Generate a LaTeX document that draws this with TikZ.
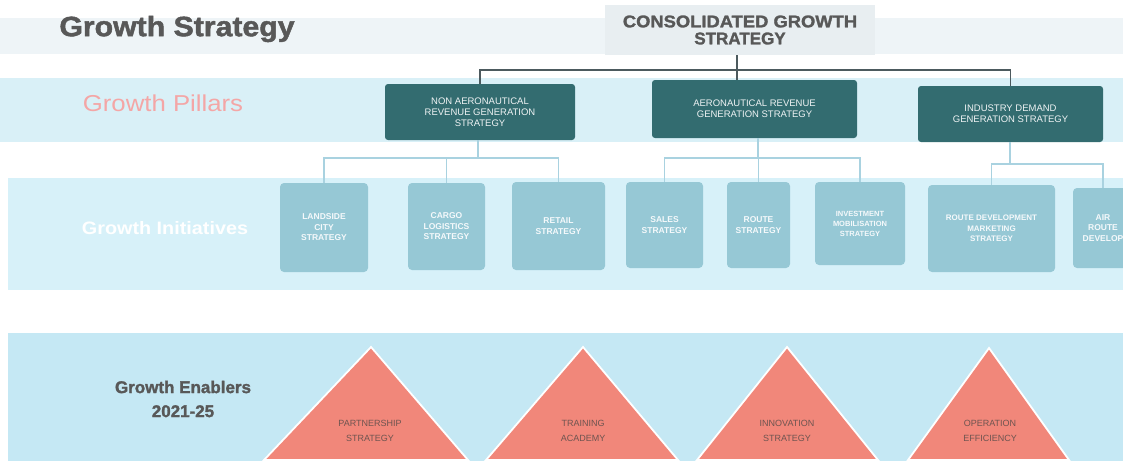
\documentclass[tikz,border=0pt]{standalone}
\usepackage{fontspec}
\setmainfont{Liberation Sans}
\newfontfamily\heavyfont[BoldFeatures={FakeBold=1.6}]{Liberation Sans}
\definecolor{bandtop}{HTML}{EEF4F7}
\definecolor{bandpillar}{HTML}{D9F0F7}
\definecolor{bandinit}{HTML}{D7F1F9}
\definecolor{bandenab}{HTML}{C5E8F4}
\definecolor{consfill}{HTML}{E8EEF1}
\definecolor{pillarfill}{HTML}{336C70}
\definecolor{initfill}{HTML}{96C8D5}
\definecolor{trifill}{HTML}{F1877A}
\definecolor{headgray}{HTML}{585858}
\definecolor{trunkgray}{HTML}{4C5A5E}
\definecolor{branchblue}{HTML}{A9D2E0}
\definecolor{pillarpink}{HTML}{F4A6A6}
\definecolor{tritext}{HTML}{6E5450}
\begin{document}
\begin{tikzpicture}[x=1pt,y=-1pt,
  pillarbox/.style={fill=pillarfill, rounded corners=3pt, text=white!92!pillarfill,
    font=\fontsize{9.5}{11}\selectfont, align=center, inner sep=2pt},
  initbox/.style={fill=initfill, rounded corners=4pt, text=white!90!initfill,
    font=\bfseries\fontsize{8.5}{10.5}\selectfont, align=center, inner sep=2pt},
  trunk/.style={draw=trunkgray, line width=1.8pt},
  branch/.style={draw=branchblue, line width=1.8pt},
  enabler/.style={fill=trifill, draw=white, line width=1.8pt, line join=miter},
  trilabel/.style={text=tritext, font=\fontsize{9}{15}\selectfont, align=center}]
\useasboundingbox (0,0) rectangle (1123,463);
\clip (0,0) rectangle (1123,463);

% background bands
\fill[bandtop] (0,18) rectangle (1123,54);
\fill[bandpillar] (0,78) rectangle (1123,142);
\fill[bandinit] (8,178) rectangle (1123,290);
\fill[bandenab] (8,333) rectangle (1123,461);

% headings
\node[text=headgray, font=\heavyfont\bfseries\fontsize{28}{30}\selectfont] (title) at (177,29)
      {\scalebox{1.08}[1]{Growth Strategy}};
\node[fill=consfill, minimum width=270pt, minimum height=50pt, text=headgray,
      font=\heavyfont\bfseries\fontsize{17}{17}\selectfont, align=center] (cons) at (740,30)
      {\scalebox{1.08}[1]{CONSOLIDATED GROWTH}\\STRATEGY};
\node[text=pillarpink, font=\fontsize{23}{24}\selectfont] (lblpillars) at (163,103)
      {\scalebox{1.12}[1]{Growth Pillars}};
\node[text=white, font=\bfseries\fontsize{18}{18}\selectfont] (lblinit) at (165,228)
      {\scalebox{1.1}[1]{Growth Initiatives}};
\node[text=headgray, font=\heavyfont\bfseries\fontsize{17}{24}\selectfont, align=center] (lblenab) at (183,399)
      {Growth Enablers\\2021-25};

% growth pillars
\node[pillarbox, minimum width=190pt, minimum height=56pt] (p1) at (480,112)
      {NON AERONAUTICAL\\REVENUE GENERATION\\STRATEGY};
\node[pillarbox, minimum width=205pt, minimum height=58pt] (p2) at (754.5,109)
      {AERONAUTICAL REVENUE\\GENERATION STRATEGY};
\node[pillarbox, minimum width=185pt, minimum height=56pt] (p3) at (1010.5,114)
      {INDUSTRY DEMAND\\GENERATION STRATEGY};

% growth initiatives
\node[initbox, minimum width=88pt, minimum height=89pt] (i1) at (324,227.5) {LANDSIDE\\CITY\\STRATEGY};
\node[initbox, minimum width=77pt, minimum height=87pt] (i2) at (446.5,226.5) {CARGO\\LOGISTICS\\STRATEGY};
\node[initbox, minimum width=93pt, minimum height=88pt] (i3) at (558.5,226) {RETAIL\\STRATEGY};
\node[initbox, minimum width=77pt, minimum height=86pt] (i4) at (664.5,225) {SALES\\STRATEGY};
\node[initbox, minimum width=63pt, minimum height=86pt] (i5) at (758.5,225) {ROUTE\\STRATEGY};
\node[initbox, minimum width=90pt, minimum height=83pt, font=\bfseries\fontsize{7.5}{10}\selectfont] (i6) at (860,223.5)
      {INVESTMENT\\MOBILISATION\\STRATEGY};
\node[initbox, minimum width=127pt, minimum height=87pt, font=\bfseries\fontsize{8}{10.5}\selectfont] (i7) at (991.5,228.5)
      {ROUTE DEVELOPMENT\\MARKETING\\STRATEGY};
\node[initbox, minimum width=60pt, minimum height=80pt] (i8) at (1103,228) {AIR\\ROUTE\\DEVELOP};

% consolidated strategy to pillars
\coordinate (hub) at (737,70);
\draw[trunk] (cons.south -| hub) -- (hub);
\draw[trunk] (hub) -| (p1.north);
\draw[trunk] (hub) -| (p3.north);
\draw[trunk] (hub) -- (p2.north -| hub);

% pillars to initiatives
\coordinate (h1) at (478,158);
\coordinate (h2) at (758,158);
\coordinate (h3) at (1010,164);
\draw[branch] (p1.south -| h1) -- (h1);
\draw[branch] (i1.north) |- (h1) -| (i3.north);
\draw[branch] (h1 -| i2.north) -- (i2.north);
\draw[branch] (p2.south -| h2) -- (h2);
\draw[branch] (i4.north) |- (h2) -| (i6.north);
\draw[branch] (h2 -| i5.north) -- (i5.north);
\draw[branch] (p3.south -| h3) -- (h3);
\draw[branch] (i7.north) |- (h3) -| (i8.north);

% growth enablers
\draw[enabler] (264,460) -- (371,347) -- (468,460) -- cycle;
\draw[enabler] (486,460) -- (583,347) -- (678,460) -- cycle;
\draw[enabler] (697,460) -- (787,347) -- (878,460) -- cycle;
\draw[enabler] (908,460) -- (989,348) -- (1069,460) -- cycle;
\node[trilabel] (e1) at (370,431) {PARTNERSHIP\\STRATEGY};
\node[trilabel] (e2) at (583,431) {TRAINING\\ACADEMY};
\node[trilabel] (e3) at (787,431) {INNOVATION\\STRATEGY};
\node[trilabel] (e4) at (990,431) {OPERATION\\EFFICIENCY};
\end{tikzpicture}
\end{document}
